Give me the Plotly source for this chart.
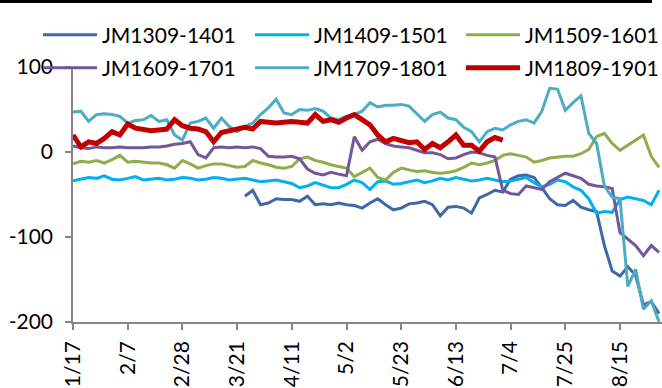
import pandas as pd
import plotly.graph_objects as go

# Trading-date grid (every third calendar day from 17 Jan)
dates = pd.date_range("2018-01-17", periods=76, freq="3D")

jm1309_1401 = [None] * 22 + [
    -52, -45, -62, -60, -55, -56, -56, -58, -52, -62,
    -61, -62, -60, -62, -63, -66, -60, -55, -62, -68,
    -66, -61, -60, -58, -62, -75, -65, -64, -66, -72,
    -54, -50, -45, -47, -32, -28, -27, -30, -42, -55,
    -62, -63, -57, -65, -68, -70, -110, -140, -146, -135,
    -145, -180, -176, -190,
]
jm1409_1501 = [
    -34, -32, -30, -31, -28, -32, -33, -31, -29, -33,
    -32, -31, -33, -32, -30, -31, -33, -32, -30, -31,
    -33, -32, -31, -33, -35, -34, -33, -35, -37, -42,
    -40, -36, -39, -42, -42, -38, -33, -36, -44, -35,
    -34, -38, -37, -35, -33, -36, -34, -31, -33, -30,
    -32, -34, -33, -31, -33, -35, -34, -32, -30, -36,
    -41, -38, -33, -35, -41, -45, -55, -72, -70, -71,
    -56, -53, -55, -57, -62, -45,
]
jm1509_1601 = [
    -14, -11, -12, -10, -13, -9, -4, -12, -11, -12,
    -13, -13, -15, -19, -10, -14, -19, -16, -14, -14,
    -16, -18, -17, -10, -13, -15, -18, -19, -17, -8,
    -6, -10, -12, -15, -17, -19, -29, -24, -19, -30,
    -33, -24, -19, -21, -23, -22, -24, -25, -24, -22,
    -18, -13, -15, -13, -10, -4, -2, -4, -6, -12,
    -10, -7, -6, -5, -5, -2, 3, 18, 22, 10,
    2, 8, 14, 20, -5, -18,
]
jm1609_1701 = [
    7, 5, 4, 6, 5, 5, 6, 5, 5, 5,
    6, 6, 7, 9, 10, 12, -3, -7, 5, 6,
    5, 6, 5, 6, 4, -5, -6, -6, -5, -8,
    -20, -25, -27, -24, -26, -28, 18, 2, 12, 15,
    10, 7, 6, 5, 2, -1, -1, -3, -8, -7,
    -3, 0, -1, -4, -6, -45, -49, -50, -40, -42,
    -44, -35, -30, -25, -28, -31, -38, -40, -41, -43,
    -95, -103, -110, -122, -110, -118,
]
jm1709_1801 = [
    47, 48, 36, 44, 45, 44, 42, 34, 37, 38,
    43, 36, 38, 20, 14, 34, 36, 40, 28, 40,
    30, 24, 30, 34, 44, 52, 62, 46, 44, 50,
    49, 51, 48, 40, 38, 42, 44, 48, 58, 53,
    55, 55, 56, 54, 45, 36, 44, 47, 40, 38,
    29, 24, 12, 24, 28, 26, 32, 36, 38, 34,
    48, 75, 74, 49, 58, 66, 22, 10, -40, -53,
    -55, -158, -138, -185, -175, -200,
]
jm1809_1901 = [
    20, 6, 12, 10, 16, 24, 20, 33, 28, 26,
    25, 26, 27, 38, 31, 28, 27, 24, 12, 23,
    25, 27, 29, 27, 36, 35, 34, 35, 36, 35,
    34, 44, 36, 38, 35, 40, 44, 38, 32, 20,
    12, 16, 14, 11, 12, 3, 10, 5, 12, 20,
    8, 8, 1, 12, 17, 14,
] + [None] * 20

y_tick_values = [-200, -100, 0, 100]
y_tick_labels = ["-200", "-100", "0", "100"]

series = [
    ("JM1309-1401", jm1309_1401, "#4068A8", 3),
    ("JM1409-1501", jm1409_1501, "#00B0F0", 3),
    ("JM1509-1601", jm1509_1601, "#8DAE4A", 3),
    ("JM1609-1701", jm1609_1701, "#72579A", 3),
    ("JM1709-1801", jm1709_1801, "#4BACC6", 3),
    ("JM1809-1901", jm1809_1901, "#C00000", 5),
]

for name, vals, *_ in series:
    if len(vals) != len(dates):
        raise ValueError(f"{name}: {len(vals)} values for {len(dates)} dates")

W, H = 662, 388
L, R, T, B = 73, 0, 67, 66
pw, ph = W - L - R, H - T - B

font = dict(family="Lato", size=21, color="#000000")
axis_grey = "#868686"

# legend grid: three columns, two rows (left edge px, row centre px)
legend_cols = [38, 250, 461]
legend_rows = [35, 68]

fig = go.Figure()
legend_layout = {}
for i, (name, vals, color, width) in enumerate(series):
    key = "legend" if i == 0 else f"legend{i + 1}"
    fig.add_trace(go.Scatter(
        x=dates, y=vals, name=name, mode="lines",
        line=dict(color=color, width=width),
        connectgaps=False, legend=key, showlegend=True,
    ))
    legend_layout[key] = dict(
        orientation="h", xref="container", yref="container",
        xanchor="left", yanchor="middle",
        x=legend_cols[i % 3] / W, y=1 - legend_rows[i // 3] / H,
        itemwidth=54, bgcolor="rgba(0,0,0,0)", font=font,
        visible=True,
    )

fig.update_layout(
    width=W, height=H,
    showlegend=True,
    margin=dict(l=L, r=R, t=T, b=B, autoexpand=False),
    paper_bgcolor="white", plot_bgcolor="white",
    font=font,
    xaxis=dict(
        type="date",
        range=["2018-01-17", "2018-08-31 03:00"],
        tick0="2018-01-17", dtick=21 * 86400000,
        tickformat="%-m/%-d", tickangle=-90,
        showgrid=False, zeroline=False,
        showline=True, linecolor=axis_grey, linewidth=1.5,
        ticks="outside", ticklen=6, tickcolor=axis_grey, tickwidth=1.5,
        ticklabelstandoff=3, tickfont=font,
    ),
    yaxis=dict(
        range=[-200, 100],
        tickmode="array", tickvals=y_tick_values, ticktext=y_tick_labels,
        showgrid=False, zeroline=False,
        showline=True, linecolor=axis_grey, linewidth=1.5,
        ticks="outside", ticklen=6, tickcolor=axis_grey, tickwidth=1.5,
        ticklabelstandoff=8, tickfont=font,
    ),
    shapes=[dict(
        type="line", xref="paper", yref="paper",
        x0=(0 - L) / pw, x1=(652 - L) / pw,
        y0=(H - B - 1.5) / ph, y1=(H - B - 1.5) / ph,
        line=dict(color="#000000", width=3),
    )],
    **legend_layout,
)

fig.write_html("out.html")
